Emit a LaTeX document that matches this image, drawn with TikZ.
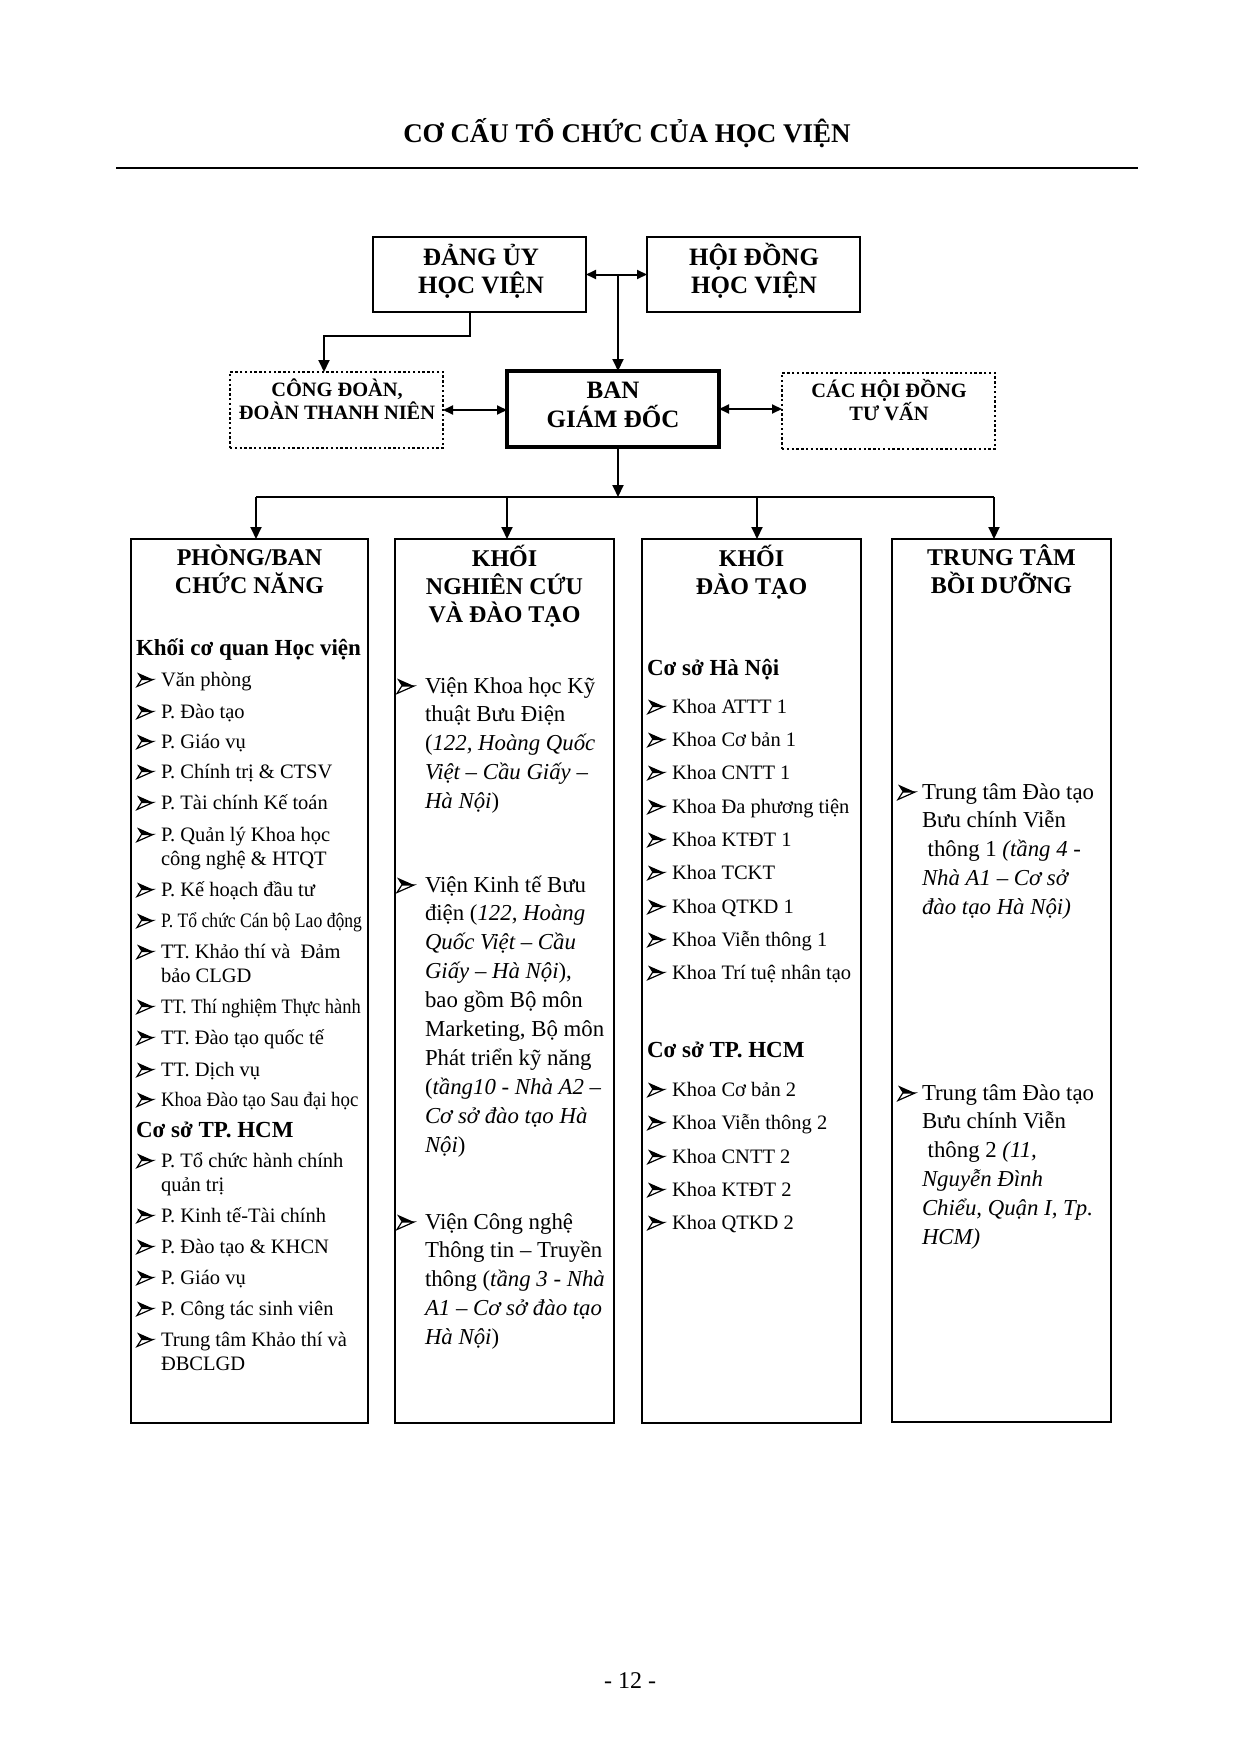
\documentclass[tikz,border=0pt]{standalone}
\usepackage{fontspec}
\usepackage{graphicx}
\setmainfont{Liberation Serif}
\usetikzlibrary{arrows.meta,fit}
\newcommand\lns[1]{\vtop{\lineskiplimit=-\maxdimen\lineskip=0pt\halign{##\hfil\cr#1\crcr}}}
% bullet pic name, text style, node name, x bullet, x text, baseline y, lines
\newcommand\itm[7]{\pic at (#4,#6) {#1}; \node[#2] (#3) at (#5,#6) {\lns{#7}};}
\begin{document}
\begin{tikzpicture}[x=0.5pt,y=-0.5pt,
  every node/.style={inner sep=0pt,outer sep=0pt},
  boxA/.style={draw,line width=1.25pt,inner sep=0pt},
  boxB/.style={draw,line width=1.8pt,inner sep=0pt},
  boxD/.style={draw,line width=1.2pt,dash pattern=on 1.2pt off 1.2pt,inner sep=0pt},
  boxC/.style={draw,line width=1pt,inner sep=0pt},
  conn/.style={line width=1pt},
  arrowA/.style={-{Triangle[length=6pt,width=5.5pt]}},
  arrowD/.style={{Triangle[length=5pt,width=4.5pt]}-{Triangle[length=5pt,width=4.5pt]}},
  ttl/.style={font=\bfseries\fontsize{13.5}{16}\selectfont,anchor=base},
  hdA/.style={font=\bfseries\fontsize{12.5}{15}\selectfont,anchor=base},
  hdB/.style={font=\bfseries\fontsize{10.2}{12}\selectfont,anchor=base},
  colhd/.style={font=\bfseries\fontsize{12}{14}\selectfont,anchor=base},
  subhd/.style={font=\bfseries\fontsize{11.5}{13}\selectfont,anchor=base west},
  txs/.style={font=\fontsize{10.25}{12}\selectfont,anchor=base west},
  txl/.style={font=\fontsize{11.4}{14.45}\selectfont,anchor=base west},
  pgn/.style={font=\fontsize{12}{14}\selectfont,anchor=base},
  bulS/.pic={
    \fill[black] (0,-13.5) -- (16,-6.5) -- (4.5,-6.5) -- cycle;
    \draw[line width=0.6pt,fill=white,line join=miter] (4.5,-6.5) -- (16,-6.5) -- (0,0.5) -- cycle;
  },
  bulL/.pic={
    \fill[black] (0,-14.5) -- (17,-7) -- (4.8,-7) -- cycle;
    \draw[line width=0.6pt,fill=white,line join=miter] (4.8,-7) -- (17,-7) -- (0,0.5) -- cycle;
  }
]
\fill[white] (0,0) rectangle (1242,1755);
\useasboundingbox (0,0) rectangle (1242,1755);

% title and rule
\node[ttl] (title) at (627,143) {CƠ CẤU TỔ CHỨC CỦA HỌC VIỆN};
\coordinate (rl) at (116,168);
\coordinate (rr) at (1138,168);
\draw[line width=1pt] (rl) -- (rr);

% top boxes
\node[boxA, fit={(373,237) (586,312)}] (dang) {};
\node[boxA, fit={(647,237) (860,312)}] (hoidong) {};
\node[boxD, fit={(230,372) (443,448)}] (congdoan) {};
\node[boxB, fit={(507,371) (719,447)}] (bgd) {};
\node[boxD, fit={(782,373) (995,449)}] (tuvan) {};

\node[hdA] (dang1) at (481,265) {ĐẢNG ỦY};
\node[hdA] (dang2) at (481,293) {HỌC VIỆN};
\node[hdA] (hd1) at (754,265) {HỘI ĐỒNG};
\node[hdA] (hd2) at (754,293) {HỌC VIỆN};
\node[hdB] (cd1) at (337,396) {CÔNG ĐOÀN,};
\node[hdB] (cd2) at (337,419) {ĐOÀN THANH NIÊN};
\node[hdA] (bgd1) at (613,398) {BAN};
\node[hdA] (bgd2) at (613,427) {GIÁM ĐỐC};
\node[hdB] (tv1) at (889,397) {CÁC HỘI ĐỒNG};
\node[hdB] (tv2) at (889,420) {TƯ VẤN};

% columns
\node[boxC, fit={(131,539) (368,1423)}] (col1) {};
\node[boxC, fit={(395,539) (614,1423)}] (col2) {};
\node[boxC, fit={(642,539) (861,1423)}] (col3) {};
\node[boxC, fit={(892,539) (1111,1422)}] (col4) {};

% connectors
\coordinate (jn) at (618,274.5);
\coordinate (bar) at (618,497);
\coordinate (a1) at (256,497);
\coordinate (a2) at (507,497);
\coordinate (a3) at (757,497);
\coordinate (a4) at (994,497);
\draw[conn,arrowD] (dang) -- (hoidong);
\draw[conn,arrowA] (jn) -- (jn |- bgd.north);
\draw[conn,arrowA] ([xshift=-4.75pt]dang.south) -- ++(0,24) -| ([xshift=-6.25pt]congdoan.north);
\draw[conn,arrowD] (congdoan.east) -- (congdoan.east -| bgd.west);
\draw[conn,arrowD] (bgd.east) -- (bgd.east -| tuvan.west);
\draw[conn,arrowA] (jn |- bgd.south) -- (bar);
\draw[line width=1.2pt] (a1) -- (a4);
\draw[conn,arrowA] (a1) -- (a1 |- col1.north);
\draw[conn,arrowA] (a2) -- (a2 |- col2.north);
\draw[conn,arrowA] (a3) -- (a3 |- col3.north);
\draw[conn,arrowA] (a4) -- (a4 |- col4.north);

% column headings
\node[colhd] (h1a) at (249.5,565) {PHÒNG/BAN};
\node[colhd] (h1b) at (249.5,593) {CHỨC NĂNG};
\node[colhd] (h2a) at (504.5,566) {KHỐI};
\node[colhd] (h2b) at (504.5,594) {NGHIÊN CỨU};
\node[colhd] (h2c) at (504.5,622) {VÀ ĐÀO TẠO};
\node[colhd] (h3a) at (751.5,566) {KHỐI};
\node[colhd] (h3b) at (751.5,594) {ĐÀO TẠO};
\node[colhd] (h4a) at (1001.5,565) {TRUNG TÂM};
\node[colhd] (h4b) at (1001.5,593) {BỒI DƯỠNG};

% column 1
\node[subhd] (s1a) at (136,655) {Khối cơ quan Học viện};
\itm{bulS}{txs}{c1a}{137}{161}{686}{Văn phòng}
\itm{bulS}{txs}{c1b}{137}{161}{718}{P. Đào tạo}
\itm{bulS}{txs}{c1c}{137}{161}{748}{P. Giáo vụ}
\itm{bulS}{txs}{c1d}{137}{161}{778}{P. Chính trị \& CTSV}
\itm{bulS}{txs}{c1e}{137}{161}{809}{P. Tài chính Kế toán}
\itm{bulS}{txs}{c1f}{137}{161}{841}{P. Quản lý Khoa học\cr công nghệ \& HTQT}
\itm{bulS}{txs}{c1g}{137}{161}{896}{P. Kế hoạch đầu tư}
\itm{bulS}{txs}{c1h}{137}{161}{927}{\scalebox{0.86}[1]{P. Tổ chức Cán bộ Lao động}}
\itm{bulS}{txs}{c1i}{137}{161}{958}{TT. Khảo thí và \ Đảm\cr bảo CLGD}
\itm{bulS}{txs}{c1j}{137}{161}{1013}{\scalebox{0.9}[1]{TT. Thí nghiệm Thực hành}}
\itm{bulS}{txs}{c1k}{137}{161}{1044}{TT. Đào tạo quốc tế}
\itm{bulS}{txs}{c1l}{137}{161}{1076}{TT. Dịch vụ}
\itm{bulS}{txs}{c1m}{137}{161}{1106}{\scalebox{0.92}[1]{Khoa Đào tạo Sau đại học}}
\node[subhd] (s1b) at (136,1137) {Cơ sở TP. HCM};
\itm{bulS}{txs}{c1n}{137}{161}{1167}{P. Tổ chức hành chính\cr quản trị}
\itm{bulS}{txs}{c1o}{137}{161}{1222}{P. Kinh tế-Tài chính}
\itm{bulS}{txs}{c1p}{137}{161}{1253}{P. Đào tạo \& KHCN}
\itm{bulS}{txs}{c1q}{137}{161}{1284}{P. Giáo vụ}
\itm{bulS}{txs}{c1r}{137}{161}{1315}{P. Công tác sinh viên}
\itm{bulS}{txs}{c1s}{137}{161}{1346}{Trung tâm Khảo thí và\cr ĐBCLGD}

% column 2
\itm{bulL}{txl}{c2a}{397}{425}{693}{Viện Khoa học Kỹ\cr thuật Bưu Điện\cr (\textit{122, Hoàng Quốc}\cr \textit{Việt – Cầu Giấy –}\cr \textit{Hà Nội})}
\itm{bulL}{txl}{c2b}{397}{425}{892}{Viện Kinh tế Bưu\cr điện (\textit{122, Hoàng}\cr \textit{Quốc Việt – Cầu}\cr \textit{Giấy – Hà Nội}),\cr bao gồm Bộ môn\cr Marketing, Bộ môn\cr Phát triển kỹ năng\cr (\textit{tầng10 - Nhà A2 –}\cr \textit{Cơ sở đào tạo Hà}\cr \textit{Nội})}
\itm{bulL}{txl}{c2c}{397}{425}{1229}{Viện Công nghệ\cr Thông tin – Truyền\cr thông (\textit{tầng 3 - Nhà}\cr \textit{A1 – Cơ sở đào tạo}\cr \textit{Hà Nội})}

% column 3
\node[subhd] (s3a) at (647,675) {Cơ sở Hà Nội};
\itm{bulS}{txs}{c3a}{648}{672}{713}{Khoa ATTT 1}
\itm{bulS}{txs}{c3b}{648}{672}{746}{Khoa Cơ bản 1}
\itm{bulS}{txs}{c3c}{648}{672}{779}{Khoa CNTT 1}
\itm{bulS}{txs}{c3d}{648}{672}{813}{Khoa Đa phương tiện}
\itm{bulS}{txs}{c3e}{648}{672}{846}{Khoa KTĐT 1}
\itm{bulS}{txs}{c3f}{648}{672}{879}{Khoa TCKT}
\itm{bulS}{txs}{c3g}{648}{672}{913}{Khoa QTKD 1}
\itm{bulS}{txs}{c3h}{648}{672}{946}{Khoa Viễn thông 1}
\itm{bulS}{txs}{c3i}{648}{672}{979}{Khoa Trí tuệ nhân tạo}
\node[subhd] (s3b) at (647,1057) {Cơ sở TP. HCM};
\itm{bulS}{txs}{c3j}{648}{672}{1096}{Khoa Cơ bản 2}
\itm{bulS}{txs}{c3k}{648}{672}{1129}{Khoa Viễn thông 2}
\itm{bulS}{txs}{c3l}{648}{672}{1163}{Khoa CNTT 2}
\itm{bulS}{txs}{c3m}{648}{672}{1196}{Khoa KTĐT 2}
\itm{bulS}{txs}{c3n}{648}{672}{1229}{Khoa QTKD 2}

% column 4
\itm{bulL}{txl}{c4a}{898}{922}{799}{Trung tâm Đào tạo\cr Bưu chính Viễn\cr \ thông 1 \textit{(tầng 4 -}\cr \textit{Nhà A1 – Cơ sở}\cr \textit{đào tạo Hà Nội)}}
\itm{bulL}{txl}{c4b}{898}{922}{1100}{Trung tâm Đào tạo\cr Bưu chính Viễn\cr \ thông 2 \textit{(11,}\cr \textit{Nguyễn Đình}\cr \textit{Chiểu, Quận I, Tp.}\cr \textit{HCM)}}

% page number
\node[pgn] (page) at (630,1688) {- 12 -};
\end{tikzpicture}
\end{document}
